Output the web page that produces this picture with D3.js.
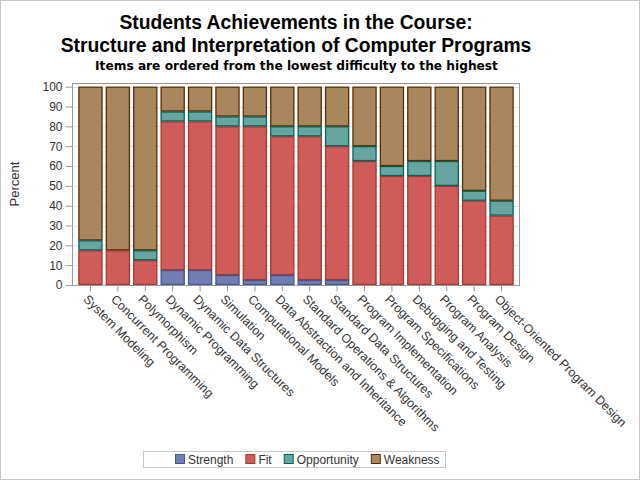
<!DOCTYPE html>
<html><head><meta charset="utf-8">
<script src="https://cdn.jsdelivr.net/npm/d3@7"></script>
<style>body{margin:0;background:#fff}svg{display:block;font-family:"Liberation Sans",Arial,sans-serif}</style>
</head><body>
<svg id="c" width="640" height="480"></svg>
<script>
const categories = ["System Modeling","Concurrent Programming","Polymorphism","Dynamic Programming","Dynamic Data Structures","Simulation","Computational Models","Data Abstraction and Inheritance","Standard Operations & Algorithms","Standard Data Structures","Program Implementation","Program Specifications","Debugging and Testing","Program Analysis","Program Design","Object-Oriented Program Design"];
const seriesNames = ["Strength","Fit","Opportunity","Weakness"];
const strength    = [0,0,0,7.5,7.5,5,2.5,5,2.5,2.5,0,0,0,0,0,0];
const fit         = [17.5,17.5,12.5,75,75,75,77.5,70,72.5,67.5,62.5,55,55,50,42.5,35];
const opportunity = [5,0,5,5,5,5,5,5,5,10,7.5,5,7.5,12.5,5,7.5];
const weakness    = [77.5,82.5,82.5,12.5,12.5,15,15,20,20,20,30,40,37.5,37.5,52.5,57.5];
const yTicks = [0,10,20,30,40,50,60,70,80,90,100];
const fills   = ["#6F7EB3","#D05B5B","#66A5A0","#A9865B"];
const strokes = ["#445694","#A23A2E","#01665E","#543005"];

const svg = d3.select("#c");
svg.append("rect").attr("x",0.5).attr("y",0.5).attr("width",639).attr("height",479).attr("fill","#fff").attr("stroke","#c8c8c8");

// titles
const titles = svg.append("g").attr("text-anchor","middle").attr("font-weight","bold").attr("fill","#000");
function fitText(t, w){ const l=t.node().getComputedTextLength(); const fs=parseFloat(t.attr("font-size")); t.attr("font-size", fs*w/l); }
const t1 = titles.append("text").attr("x",296).attr("y",29).attr("font-size",19).text("Students Achievements in the Course:");
const t2 = titles.append("text").attr("x",296).attr("y",51.5).attr("font-size",19).text("Structure and Interpretation of Computer Programs");
fitText(t2, 471);
t1.attr("font-size", t2.attr("font-size"));
const t3 = titles.append("text").attr("x",296.5).attr("y",70).attr("font-size",11)
  .attr("font-family","DejaVu Sans, Verdana, sans-serif").text("Items are ordered from the lowest difficulty to the highest");
fitText(t3, 403);

const L=72, R=520, T=83, B=285;
const x = d3.scaleBand().domain(categories).range([78.4,513.6]).paddingInner(0.12).paddingOuter(0);
const y = d3.scaleLinear().domain([0,100]).range([B,86.7]);

// grid
svg.append("g").selectAll("line").data(yTicks.filter(d=>d>0)).join("line")
  .attr("x1",L).attr("x2",R).attr("y1",d=>Math.round(y(d))+0.5).attr("y2",d=>Math.round(y(d))+0.5)
  .attr("stroke","#e6e6e6");

const rows = categories.map((c,i)=>({cat:c, Strength:strength[i], Fit:fit[i], Opportunity:opportunity[i], Weakness:weakness[i]}));
const stack = d3.stack().keys(seriesNames)(rows);
const g = svg.append("g");
stack.forEach((s,si)=>{
  g.append("g").selectAll("rect").data(s.filter(d=>d[1]-d[0]>0)).join("rect")
    .attr("x",d=>x(d.data.cat)+0.5).attr("width",x.bandwidth()-1)
    .attr("y",d=>y(d[1])+0.5).attr("height",d=>Math.max(0,y(d[0])-y(d[1])-1))
    .attr("fill",fills[si]).attr("stroke",strokes[si]).attr("stroke-width",1.3);
});

// frame
svg.append("rect").attr("x",L+0.5).attr("y",T+0.5).attr("width",R-L-1).attr("height",B-T).attr("fill","none").attr("stroke","#9a9a9a");

// y axis
const ya = svg.append("g").attr("transform",`translate(${L+0.5},0)`)
  .call(d3.axisLeft(y).tickValues(yTicks).tickSize(7).tickPadding(3).tickSizeOuter(0));
ya.select(".domain").remove();
ya.selectAll(".tick line").attr("stroke","#9a9a9a");
ya.selectAll(".tick text").attr("font-size",12).attr("fill","#333").attr("font-family","Liberation Sans, Arial, sans-serif");

svg.append("text").attr("transform",`translate(19,${(T+B)/2}) rotate(-90)`).attr("text-anchor","middle")
  .attr("font-size",13).attr("fill","#333").text("Percent");

// x axis
const xa = svg.append("g").attr("transform",`translate(0,${B+0.5})`)
  .call(d3.axisBottom(x).tickSize(6).tickSizeOuter(0));
xa.select(".domain").remove();
xa.selectAll(".tick line").attr("stroke","#9a9a9a");
xa.selectAll(".tick text").attr("font-size",12.4).attr("fill","#333").attr("font-family","Liberation Sans, Arial, sans-serif")
  .attr("text-anchor","start").attr("transform","translate(-6,10) rotate(45)").attr("y",0).attr("dy","0.35em").attr("x",2);

// legend
const lg = svg.append("g");
lg.append("rect").attr("x",143.5).attr("y",451.5).attr("width",302).attr("height",16).attr("fill","#fff").attr("stroke","#c8c8c8");
let lx = 175;
seriesNames.forEach((n,i)=>{
  lg.append("rect").attr("x",lx+0.5).attr("y",454.5).attr("width",9).attr("height",9).attr("fill",fills[i]).attr("stroke",strokes[i]);
  const t = lg.append("text").attr("x",lx+13).attr("y",464).attr("font-size",12).attr("fill","#333").text(n);
  lx += 13 + t.node().getComputedTextLength() + 12;
});
</script>
</body></html>
